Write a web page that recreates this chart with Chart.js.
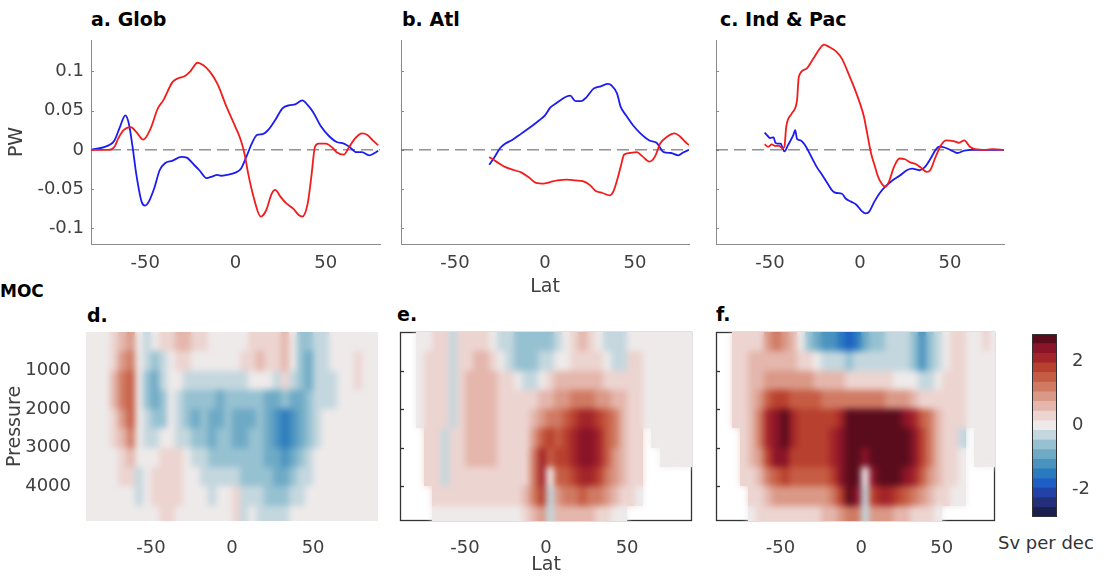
<!DOCTYPE html>
<html>
<head>
<meta charset="utf-8">
<script src="https://cdn.jsdelivr.net/npm/chart.js@4.4.1/dist/chart.umd.min.js"></script>
<style>
  body { margin: 0; background: #fff; width: 1104px; height: 578px; position: relative; overflow: hidden; font-family: "DejaVu Sans", sans-serif; }
  canvas { position: absolute; }
  .lbl { position: absolute; font-weight: bold; color: #000; white-space: nowrap; line-height: 1; }
</style>
</head>
<body>
<div class="lbl" style="left:91px;top:10px;font-size:19px">a. Glob</div>
<div class="lbl" style="left:402px;top:10px;font-size:19px">b. Atl</div>
<div class="lbl" style="left:720px;top:10px;font-size:19px">c. Ind &amp; Pac</div>
<div class="lbl" style="left:0px;top:283px;font-size:17px">MOC</div>
<div class="lbl" style="left:87px;top:306px;font-size:19px">d.</div>
<div class="lbl" style="left:397px;top:305px;font-size:19px">e.</div>
<div class="lbl" style="left:716px;top:305px;font-size:19px">f.</div>
<div class="lbl" style="left:998px;top:534px;font-size:18px;font-weight:normal;color:#333">Sv per dec</div>

<canvas id="pwGlob" width="392" height="270" style="left:0px;top:30px"></canvas>
<canvas id="pwAtl" width="312" height="270" style="left:390px;top:30px"></canvas>
<canvas id="pwIndPac" width="310" height="270" style="left:705px;top:30px"></canvas>
<canvas id="mocGlob" width="390" height="278" style="left:0px;top:300px"></canvas>
<canvas id="mocAtl" width="312" height="278" style="left:390px;top:300px"></canvas>
<canvas id="mocIndPac" width="300" height="278" style="left:705px;top:300px"></canvas>
<canvas id="colorbar" width="84" height="278" style="left:1020px;top:300px"></canvas>

<script>
// ---- heat transport (PW) vs latitude ----
const latTicks = [-50, 0, 50];
const pwTicks = [-0.1, -0.05, 0, 0.05, 0.1];

const globRedLat = [-80,-70,-67,-65,-62,-58,-55,-51,-47,-43,-40,-35,-32,-28,-25,-21,-18,-14,-10,-5,0,3,5,7,10,14,17,20,22,25,28,32,35,37,40,42,44,46,50,54,56,60,63,66,70,73,76,79];
const globRed = [0,0,0.004,0.014,0.025,0.029,0.023,0.013,0.027,0.053,0.063,0.086,0.091,0.094,0.1,0.111,0.108,0.099,0.084,0.055,0.029,0.012,-0.005,-0.03,-0.06,-0.085,-0.077,-0.056,-0.051,-0.06,-0.068,-0.075,-0.083,-0.085,-0.068,-0.034,0.004,0.008,0.008,0.002,-0.003,-0.006,0.004,0.014,0.021,0.019,0.012,0.006];
const globBlueLat = [-80,-70,-67,-64,-61,-59,-57,-55,-52,-50,-48,-45,-42,-39,-35,-30,-27,-23,-20,-16,-13,-10,-8,-5,0,3,6,9,12,15,18,22,26,30,33,37,40,43,47,52,56,60,63,67,70,74,77,79];
const globBlue = [0,0.006,0.012,0.029,0.044,0.033,0.004,-0.03,-0.066,-0.071,-0.066,-0.049,-0.026,-0.017,-0.014,-0.009,-0.01,-0.019,-0.026,-0.036,-0.034,-0.032,-0.033,-0.032,-0.029,-0.024,-0.009,0.008,0.019,0.02,0.025,0.038,0.053,0.057,0.058,0.063,0.057,0.048,0.031,0.017,0.01,0.008,0.004,-0.003,-0.003,-0.007,-0.004,-0.001];

const atlRedLat = [-31,-27,-22,-17,-13,-9,-5,-1,3,7,12,17,21,25,28,32,36,38,40,42,44,47,51,54,58,61,64,68,72,75,78,80];
const atlRed = [-0.009,-0.015,-0.022,-0.026,-0.029,-0.035,-0.042,-0.043,-0.041,-0.039,-0.038,-0.039,-0.04,-0.045,-0.052,-0.055,-0.058,-0.053,-0.039,-0.022,-0.006,-0.004,-0.003,-0.008,-0.015,-0.009,0.008,0.017,0.021,0.017,0.01,0.006];
const atlBlueLat = [-31,-28,-25,-22,-18,-13,-8,-3,0,3,6,9,12,14,17,20,23,27,31,35,37,40,42,45,49,53,58,62,66,70,74,77,80];
const atlBlue = [-0.019,-0.009,0.002,0.008,0.013,0.021,0.029,0.038,0.044,0.054,0.059,0.064,0.068,0.069,0.062,0.062,0.067,0.078,0.081,0.084,0.082,0.072,0.055,0.044,0.031,0.021,0.012,0.009,-0.003,-0.004,-0.007,-0.003,0];

const indRedLat = [-53,-51,-49,-47,-45,-43,-42,-41,-38,-35,-34,-30,-26,-23,-20,-17,-13,-10,-6,-3,0,2,4,6,8,10,12,14,16,19,22,25,28,31,34,37,39,42,45,48,52,55,58,61,64,70,74,80];
const indRed = [0.007,0.004,0.007,0.005,0.005,0.002,0.004,0.029,0.046,0.063,0.093,0.103,0.116,0.127,0.134,0.131,0.125,0.116,0.095,0.078,0.059,0.044,0.021,-0.003,-0.019,-0.034,-0.043,-0.047,-0.041,-0.021,-0.011,-0.012,-0.016,-0.018,-0.023,-0.028,-0.026,-0.009,0.006,0.012,0.011,0.009,0.012,0.004,0.001,0,0.001,0];
const indBlueLat = [-53,-51,-50,-48,-47,-46,-44,-43,-42,-40,-37,-36,-35,-33,-30,-27,-24,-21,-18,-15,-13,-10,-8,-5,-2,1,3,5,8,11,14,18,22,26,29,33,36,39,42,44,47,51,54,58,62,70,80];
const indBlue = [0.022,0.017,0.015,0.016,0.009,0.008,0.008,0.002,-0.002,0.006,0.019,0.025,0.014,0.012,0.004,-0.009,-0.022,-0.032,-0.043,-0.053,-0.055,-0.056,-0.062,-0.066,-0.07,-0.078,-0.081,-0.079,-0.066,-0.055,-0.047,-0.039,-0.033,-0.026,-0.024,-0.026,-0.022,-0.012,0,0.004,0.003,-0.001,-0.004,-0.001,0,0,0];

// ---- MOC trend (Sv per decade), rows = pressure bands, cols = 5 deg latitude bands ----
const presTicks = [1000, 2000, 3000, 4000];
const mocLat = [-87.5,-82.5,-77.5,-72.5,-67.5,-62.5,-57.5,-52.5,-47.5,-42.5,-37.5,-32.5,-27.5,-22.5,-17.5,-12.5,-7.5,-2.5,2.5,7.5,12.5,17.5,22.5,27.5,32.5,37.5,42.5,47.5,52.5,57.5,62.5,67.5,72.5,77.5,82.5,87.5];
const mocPres = [250,750,1250,1750,2250,2750,3250,3750,4250,4750];
const _ = null; // no data

const globMoc = [
  [0,0,0,0.3,0.6,0.9,0,-0.3,0,0.3, 0.3,0.6,0.6,0.3,0.3,0,0,0,0,0, 0.3,0.3,0.3,0.3,0.6,0,-0.6,-0.6,-0.3,-0.3, 0,0,0,0,0,0],
  [0,0,0,0.3,0.9,1.2,0,-0.3,-0.6,-0.3, 0,0.3,0.3,0,0,0,0,0,0,0.3, 0.3,0.6,0.3,0.3,0.6,0,-0.6,-0.9,-0.3,-0.3, 0,0,0,0.3,0,0],
  [0,0,0,0.6,1.2,1.5,0,-0.6,-0.9,-0.3, 0,0,-0.3,-0.3,-0.3,-0.3,-0.3,-0.3,-0.3,-0.3, 0,0,0,-0.3,0.3,-0.3,-0.6,-0.9,-0.3,-0.3, -0.3,0,0,0.3,0,0],
  [0,0,0,0.6,1.2,1.5,0,-0.6,-0.9,-0.6, 0,-0.3,-0.6,-0.6,-0.6,-0.6,-0.9,-0.6,-0.6,-0.6, -0.6,-0.6,-0.9,-0.9,-0.6,-0.9,-0.9,-0.6,-0.3,-0.3, -0.3,0,0,0,0,0],
  [0,0,0,0.3,0.9,1.5,0,-0.3,-0.6,-0.6, 0,-0.3,-0.6,-0.9,-0.6,-0.9,-0.9,-0.6,-0.9,-0.9, -0.9,-0.6,-0.9,-1.2,-1.5,-1.2,-0.9,-0.6,-0.3,0, 0,0,0,0,0,0],
  [0,0,0,0.3,0.6,1.2,0,-0.3,-0.3,0, 0,-0.3,-0.3,-0.6,-0.6,-0.9,-0.6,-0.6,-0.9,-0.9, -0.6,-0.6,-0.9,-1.2,-1.5,-1.2,-0.9,-0.6,-0.3,0, 0,0,0,0,0,0],
  [0,0,0,0,0.3,0.6,0,0,0,0.3, 0.3,0.3,0,-0.3,-0.3,-0.6,-0.6,-0.6,-0.6,-0.6, -0.6,-0.6,-0.9,-0.9,-1.2,-0.9,-0.6,-0.3,0,0, 0,0,0,0,0,0],
  [0,0,0,0,0.3,0.3,-0.3,0,0.3,0.3, 0.3,0.3,0,0,-0.3,-0.3,-0.3,-0.3,-0.3,-0.6, -0.6,-0.6,-0.6,-0.9,-0.9,-0.6,-0.3,-0.3,0,0, 0,0,0,0,0,0],
  [0,0,0,0,0,0,-0.3,0,0.3,0.3, 0.3,0.3,0,0,0,-0.3,0,0,0.3,-0.3, -0.3,-0.3,-0.6,-0.6,-0.6,-0.3,-0.3,0,0,0, 0,0,0,0,0,0],
  [0,0,0,0,0,0,0,0,0,0.3, 0.3,0,0,0,0,0,0,0,0.3,-0.3, 0,-0.3,-0.3,-0.3,-0.3,0,0,0,0,0, 0,0,0,0,0,0]
];

const atlMoc = [
  [_,_,0,0,0.3,0.3,-0.3,0.3,0.3,0.3, 0.3,0,-0.3,-0.3,-0.6,-0.6,-0.6,-0.6,-0.6,-0.3, 0,0.3,0.6,0.3,0,-0.3,-0.3,-0.3,0,0, 0,0,0,0,0,0],
  [_,_,0,0.3,0.3,0.3,-0.3,0.3,0.3,0.6, 0.6,0.3,0,-0.3,-0.6,-0.6,-0.6,-0.3,-0.3,0, 0,0.3,0.3,0.3,0.3,0,-0.3,-0.3,0.3,0.3, 0,0,0,0,0,0],
  [_,_,0,0.3,0.3,0.3,-0.3,0.3,0.6,0.6, 0.6,0.6,0.3,0.3,0,-0.3,-0.3,0,0.3,0.6, 0.6,0.6,0.6,0.6,0.6,0.3,0.3,0.3,0.3,0.3, 0,0,0,0,0,0],
  [_,_,0,0.3,0.3,0.3,-0.3,0.3,0.6,0.6, 0.6,0.6,0.3,0.3,0.3,0.3,0.3,0.6,0.6,0.9, 0.9,1.2,1.2,1.2,0.9,0.9,0.6,0.6,0.3,0.3, 0,0,0,0,0,0],
  [_,_,0,0.3,0.3,0.3,-0.3,0.3,0.6,0.6, 0.6,0.6,0.3,0.3,0.3,0.3,0.6,0.9,1.2,1.2, 1.5,1.8,2.1,2.1,1.8,1.5,1.2,0.6,0.3,0.3, 0,0,0,0,0,0],
  [_,_,_,0.3,0.3,-0.3,0.3,0.3,0.6,0.6, 0.6,0.6,0.3,0.3,0.3,0.3,0.9,1.5,1.8,1.5, 1.8,2.1,2.4,2.4,2.1,1.5,1.2,0.6,0.3,0.3, _,0,0,0,0,0],
  [_,_,_,0.3,0.3,-0.3,0.3,0.3,0.6,0.6, 0.6,0.6,0.3,0.3,0.3,0.3,1.2,2.1,1.5,1.8, 1.8,2.1,2.4,2.4,2.1,1.5,0.9,0.6,0.3,0.3, _,_,0,0,0,0],
  [_,_,_,0.3,0.3,-0.3,0.3,0.3,0.3,0.3, 0.3,0.3,0.3,0.3,0.3,0.3,1.2,2.1,0,1.5, 1.5,1.8,2.1,2.1,1.8,1.2,0.9,0.6,0.3,0.3, _,_,_,_,_,_],
  [_,_,_,_,0.3,0.3,0.3,0.3,0.3,0.3, 0.3,0.3,0.3,0.3,0.3,0.6,1.2,1.8,-0.3,0.9, 1.2,1.2,1.5,1.2,1.2,0.9,0.6,0.3,0.3,0, _,_,_,_,_,_],
  [_,_,_,_,0,0,0,0,0,0, 0,0,0,0,0,0.3,0.6,0.9,-0.3,0.6, 0.6,0.6,0.6,0.6,0.3,0.3,0,0,_,_, _,_,_,_,_,_]
];

const indPacMoc = [
  [_,_,0.3,0.3,0.3,0.3,0.9,1.2,0.9,0.6, 0,-0.6,-0.9,-1.2,-1.2,-1.5,-1.8,-1.5,-0.9,-0.6, -0.6,-0.3,-0.3,-0.3,-0.6,-1.2,-0.6,-0.3,0,0.3, 0.3,0,0,0.3,0,0],
  [_,_,0.3,0.3,0.6,0.6,0.6,0.6,0.6,0.6, 0.3,0.3,0,-0.3,-0.3,-0.3,-0.6,-0.3,-0.3,-0.3, -0.3,-0.3,-0.3,-0.3,-0.6,-1.2,-0.6,-0.3,0,0.3, 0.3,0,0,0,0,0],
  [_,_,0.3,0.3,0.6,0.6,0.9,0.9,0.9,0.9, 0.9,0.9,0.6,0.6,0.6,0.6,0.3,0.3,0.3,0.3, 0.3,0.3,0,0,0,-0.3,-0.3,0,0.3,0.3, 0.3,0,0,0,0,0],
  [_,_,0.3,0.3,0.6,0.9,1.5,1.8,1.8,1.5, 1.5,1.5,1.5,1.2,1.2,1.2,1.2,1.2,1.2,1.2, 1.2,0.9,0.9,0.9,0.6,0.3,0.3,0.3,0.3,0.3, 0.3,0,0,0,0,0],
  [_,_,0.3,0.3,0.6,1.2,2.1,2.4,2.7,2.1, 1.8,1.8,1.8,1.8,1.8,2.1,2.7,2.7,2.7,2.7, 2.7,2.7,2.7,2.4,2.1,1.5,1.2,0.6,0.3,0.3, 0.3,0,0,0,0,0],
  [_,_,_,0.3,0.6,1.2,2.1,2.4,2.7,2.1, 1.8,1.8,1.8,1.8,2.1,2.4,2.7,2.7,2.7,2.7, 2.7,2.7,2.7,2.7,2.4,1.8,1.2,0.6,0.3,0.3, -0.3,_,0,0,0,0],
  [_,_,_,0.3,0.6,0.9,1.8,2.4,2.4,1.8, 1.8,1.8,1.8,1.8,2.1,2.4,2.7,2.7,2.4,2.7, 2.7,2.7,2.7,2.7,2.4,1.8,1.2,0.6,0.3,0.3, 0,_,0,0,0,0],
  [_,_,_,0.3,0.3,0.6,1.2,1.5,1.8,1.5, 1.5,1.5,1.5,1.5,1.8,2.4,2.7,2.7,0,2.4, 2.7,2.7,2.7,2.4,2.1,1.5,0.9,0.6,0.3,0.3, 0,_,_,_,_,_],
  [_,_,_,_,0.3,0.3,0.6,0.9,0.9,0.9, 0.9,0.9,0.9,0.9,1.2,1.8,2.7,2.4,-0.3,1.8, 2.1,2.1,1.8,1.5,1.2,0.9,0.6,0.3,0.3,0, 0,_,_,_,_,_],
  [_,_,_,_,0,0.3,0.3,0.3,0.3,0.3, 0.3,0.3,0.3,0.6,0.6,0.9,1.2,1.2,-0.3,0.9, 0.9,0.9,0.6,0.6,0.3,0.3,0.3,0,_,_, _,_,_,_,_,_]
];

// colour bar
const cbLevels = [-2.7,-2.4,-2.1,-1.8,-1.5,-1.2,-0.9,-0.6,-0.3,0,0.3,0.6,0.9,1.2,1.5,1.8,2.1,2.4,2.7];
const cbTicks = [-2, 0, 2];

const mocColors = ['#1a1f4d','#232f78','#2342a8','#1d5fc4','#2a7abf','#4a93c0','#6eaac6','#96c1d1','#c4d7de',
  '#eeeaea',
  '#ecd4d0','#e4b6ac','#da9886','#d07a63','#c65c43','#b8402e','#a42529','#8a1428','#5a0c1c'];

const axisGrey = '#8a8a8a';
Chart.defaults.font.family = '"DejaVu Sans", sans-serif';
Chart.defaults.font.size = 18;
Chart.defaults.color = '#404040';

const fmt = v => String(v);
const setTicks = list => scale => { scale.ticks = list.map(v => ({ value: v })); };

function bandColor(v) {
  const k = Math.max(-9, Math.min(9, Math.round(v / 0.3)));
  return mocColors[k + 9];
}

// small inward tick marks on the left axis
const inTicks = {
  id: 'inTicks',
  beforeDatasetsDraw(chart) {
    const { ctx, chartArea: a, scales: { y } } = chart;
    ctx.save();
    ctx.strokeStyle = axisGrey;
    ctx.lineWidth = 1;
    pwTicks.forEach(v => {
      const py = Math.round(y.getPixelForValue(v)) + 0.5;
      ctx.beginPath();
      ctx.moveTo(a.left, py);
      ctx.lineTo(a.left + 3, py);
      ctx.stroke();
    });
    ctx.restore();
  }
};

function series(lat, vals, color) {
  return {
    data: lat.map((x, i) => ({ x, y: vals[i] })),
    showLine: true,
    borderColor: color,
    borderWidth: 1.8,
    pointRadius: 0,
    cubicInterpolationMode: 'monotone'
  };
}

function pwChart(id, redLat, red, blueLat, blue, o) {
  new Chart(document.getElementById(id), {
    type: 'scatter',
    data: {
      datasets: [
        series(redLat, red, '#f21c1c'),
        series(blueLat, blue, '#1c1cf2'),
        { data: [{ x: -80, y: 0 }, { x: 80, y: 0 }], showLine: true, borderColor: '#5a5a5a',
          borderWidth: 1, borderDash: [12, 6], pointRadius: 0 }
      ]
    },
    options: {
      responsive: false,
      animation: false,
      layout: { padding: { top: 10, right: o.padRight, left: 0, bottom: 0 } },
      plugins: { legend: { display: false }, tooltip: { enabled: false } },
      scales: {
        x: {
          type: 'linear', min: -80, max: 80,
          afterBuildTicks: setTicks(latTicks),
          afterFit: s => { s.height = 56; s.paddingLeft = 0; s.paddingRight = 0; },
          grid: { drawOnChartArea: false, drawTicks: false },
          border: { color: axisGrey },
          ticks: { padding: 9, callback: fmt },
          title: { display: !!o.xTitle, text: o.xTitle || '', font: { size: 19 }, padding: { top: 0, bottom: 2 } }
        },
        y: {
          type: 'linear', min: -0.12, max: 0.14,
          afterBuildTicks: setTicks(pwTicks),
          afterFit: s => { s.width = o.yWidth; s.paddingTop = 0; s.paddingBottom = 0; },
          grid: { drawOnChartArea: false, drawTicks: false },
          border: { color: axisGrey },
          ticks: { display: !!o.yTitle, padding: 7, callback: fmt },
          title: { display: !!o.yTitle, text: o.yTitle || '', font: { size: 19 }, padding: { top: 6, bottom: 0 } }
        }
      }
    },
    plugins: [inTicks]
  });
}

// filled-contour look: crisp cells, then a softened copy on top
function heatLayer(grid, framed) {
  return {
    id: 'heat',
    beforeDatasetsDraw(chart) {
      const { ctx, chartArea: a, scales: { x, y } } = chart;
      const off = document.createElement('canvas');
      off.width = chart.width;
      off.height = chart.height;
      const octx = off.getContext('2d');
      grid.forEach((row, i) => row.forEach((v, j) => {
        if (v === null) return;
        const x0 = Math.round(x.getPixelForValue(mocLat[j] - 2.5));
        const x1 = Math.round(x.getPixelForValue(mocLat[j] + 2.5));
        const y0 = Math.round(y.getPixelForValue(mocPres[i] - 250));
        const y1 = Math.round(y.getPixelForValue(mocPres[i] + 250));
        octx.fillStyle = bandColor(v);
        octx.fillRect(x0, Math.min(y0, y1), x1 - x0, Math.abs(y1 - y0));
      }));

      ctx.save();
      if (framed) {
        ctx.strokeStyle = '#333';
        ctx.lineWidth = 1.3;
        ctx.strokeRect(a.left + 0.5, a.top + 0.5, a.width - 1, a.height - 1);
        presTicks.forEach(p => {
          const py = Math.round(y.getPixelForValue(p)) + 0.5;
          ctx.beginPath();
          ctx.moveTo(a.left, py);
          ctx.lineTo(a.left + 4, py);
          ctx.stroke();
        });
      }
      ctx.beginPath();
      ctx.rect(a.left, a.top, a.width, a.height);
      ctx.clip();
      ctx.drawImage(off, 0, 0);
      ctx.filter = 'blur(3px)';
      ctx.drawImage(off, 0, 0);
      ctx.filter = 'none';
      ctx.restore();
    }
  };
}

function mocChart(id, grid, o) {
  new Chart(document.getElementById(id), {
    type: 'scatter',
    data: { datasets: [] },
    options: {
      responsive: false,
      animation: false,
      layout: { padding: { top: 32, right: o.padRight, left: 0, bottom: 0 } },
      plugins: { legend: { display: false }, tooltip: { enabled: false } },
      scales: {
        x: {
          type: 'linear', min: -90, max: o.xMax,
          afterBuildTicks: setTicks(latTicks),
          afterFit: s => { s.height = 57; s.paddingLeft = 0; s.paddingRight = 0; },
          grid: { display: false },
          border: { display: false },
          ticks: { padding: 9, callback: fmt },
          title: { display: !!o.xTitle, text: o.xTitle || '', font: { size: 19 }, padding: { top: 0, bottom: 2 } }
        },
        y: {
          type: 'linear', reverse: true, min: 0, max: 4900,
          afterBuildTicks: setTicks(presTicks),
          afterFit: s => { s.width = o.yWidth; s.paddingTop = 0; s.paddingBottom = 0; },
          grid: { display: false },
          border: { display: false },
          ticks: { display: !!o.yTitle, padding: 7, callback: fmt },
          title: { display: !!o.yTitle, text: o.yTitle || '', font: { size: 19 }, padding: { top: 4, bottom: 0 } }
        }
      }
    },
    plugins: [heatLayer(grid, o.framed)]
  });
}

pwChart('pwGlob', globRedLat, globRed, globBlueLat, globBlue, { yWidth: 91, padRight: 12, yTitle: 'PW' });
pwChart('pwAtl', atlRedLat, atlRed, atlBlueLat, atlBlue, { yWidth: 11, padRight: 13, xTitle: 'Lat' });
pwChart('pwIndPac', indRedLat, indRed, indBlueLat, indBlue, { yWidth: 11, padRight: 11 });

mocChart('mocGlob', globMoc, { yWidth: 86, padRight: 12, xMax: 90, yTitle: 'Pressure', framed: false });
mocChart('mocAtl', atlMoc, { yWidth: 10, padRight: 10, xMax: 90, xTitle: 'Lat', framed: true });
mocChart('mocIndPac', indPacMoc, { yWidth: 11, padRight: 10, xMax: 83, framed: true });

new Chart(document.getElementById('colorbar'), {
  type: 'bar',
  data: {
    labels: [''],
    datasets: cbLevels.map((lv, i) => ({
      data: [[lv - 0.15, lv + 0.15]],
      backgroundColor: mocColors[i],
      grouped: false,
      barPercentage: 1,
      categoryPercentage: 1,
      borderWidth: 0
    }))
  },
  options: {
    responsive: false,
    animation: false,
    layout: { padding: { top: 34, bottom: 61, left: 12, right: 0 } },
    plugins: { legend: { display: false }, tooltip: { enabled: false } },
    scales: {
      x: { display: false },
      y: {
        position: 'right', min: -2.85, max: 2.85,
        afterBuildTicks: setTicks(cbTicks),
        afterFit: s => { s.width = 47; s.paddingTop = 0; s.paddingBottom = 0; },
        grid: { display: false },
        border: { display: false },
        ticks: { padding: 7, callback: fmt }
      }
    }
  },
  plugins: [{
    id: 'outline',
    afterDatasetsDraw(chart) {
      const { ctx, chartArea: a } = chart;
      ctx.save();
      ctx.strokeStyle = '#333';
      ctx.lineWidth = 1;
      ctx.strokeRect(a.left + 0.5, a.top + 0.5, a.width - 1, a.height - 1);
      ctx.restore();
    }
  }]
});
</script>
</body>
</html>
